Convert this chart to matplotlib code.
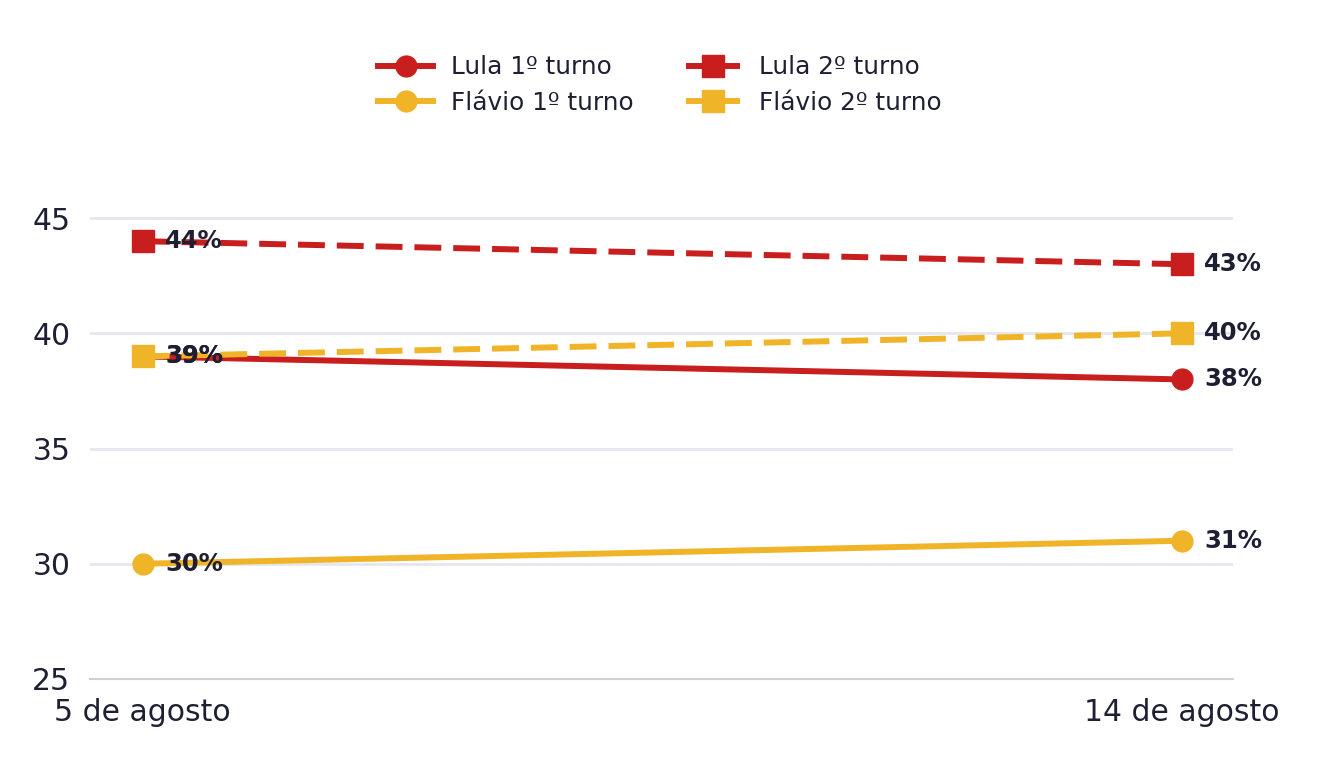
import matplotlib
matplotlib.use("Agg")
from matplotlib import pyplot as plt

dates = ["5 de agosto", "14 de agosto"]
lula_1t = [39, 38]
flavio_1t = [30, 31]
lula_2t = [44, 43]
flavio_2t = [39, 40]

RED = "#c81e1e"
YELLOW = "#f0b429"
TEXT = "#1f1f33"

plt.rcParams["font.family"] = ["DejaVu Sans"]

fig = plt.figure(figsize=(13.2, 7.6), dpi=100)
ax = fig.add_axes([0.068, 0.1066, 0.866, 0.667])

x = list(range(len(dates)))
series = [
    ("Lula 1º turno", lula_1t, RED, "-", "o"),
    ("Flávio 1º turno", flavio_1t, YELLOW, "-", "o"),
    ("Lula 2º turno", lula_2t, RED, "--", "s"),
    ("Flávio 2º turno", flavio_2t, YELLOW, "--", "s"),
]

handles = {}
for label, vals, color, ls, mk in series:
    (ln,) = ax.plot(
        x, vals, color=color, linestyle=ls, marker=mk, lw=4.3,
        markersize=15 if mk == "o" else 16.5, label=label, zorder=3,
        dashes=(4.5, 2) if ls == "--" else (None, None),
    )
    handles[label] = ln
    # value labels next to each point
    for xi, vi in zip(x, vals):
        ax.annotate(
            f"{vi}%", (xi, vi), textcoords="offset points", xytext=(16, 0),
            ha="left", va="center", fontsize=17.5, fontweight="bold",
            color=TEXT, zorder=5,
        )

ax.set_xlim(-0.051, 1.049)
ax.set_ylim(25, 47)
ax.set_yticks([25, 30, 35, 40, 45])
ax.set_xticks(x)
ax.set_xticklabels(dates)
ax.tick_params(axis="both", length=0, labelsize=21.5, colors=TEXT)
ax.tick_params(axis="y", pad=14)
ax.tick_params(axis="x", pad=14)

ax.grid(axis="y", color="#e6e6ee", lw=2, zorder=0)
ax.set_axisbelow(True)
for side in ["top", "right", "left"]:
    ax.spines[side].set_visible(False)
ax.spines["bottom"].set_color("#d0d0d8")
ax.spines["bottom"].set_linewidth(1.5)

order = ["Lula 1º turno", "Flávio 1º turno", "Lula 2º turno", "Flávio 2º turno"]
leg = fig.legend(
    [handles[k] for k in order], order, ncol=2, frameon=False,
    loc="center", bbox_to_anchor=(0.5, 1 - 85 / 760), fontsize=17.8,
    handlelength=2.2, columnspacing=2.1, labelspacing=0.45, handletextpad=0.75,
)
for t in leg.get_texts():
    t.set_color(TEXT)

fig.savefig("out.png", dpi=100)
